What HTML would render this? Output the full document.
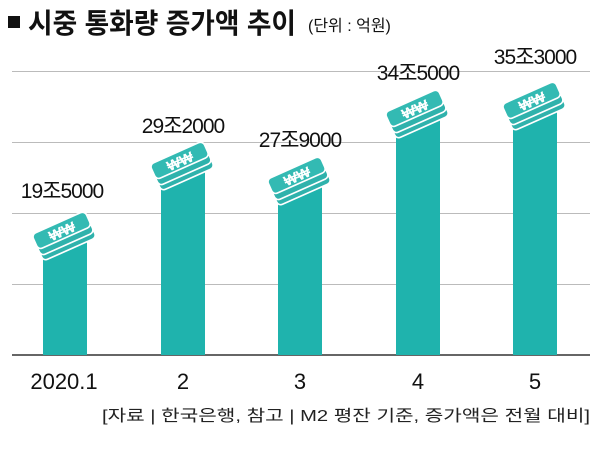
<!DOCTYPE html>
<html><head><meta charset="utf-8"><style>
body{margin:0;background:#fff;width:600px;height:446px;overflow:hidden}
svg text{font-family:"Liberation Sans","Noto Sans CJK KR",sans-serif}
</style></head><body>
<svg width="600" height="446" viewBox="0 0 600 446">
<defs>
<g id="bill">
 <g transform="scale(1.12) rotate(-24)">
  <rect x="-26" y="-4" width="52" height="15" rx="4" fill="#2fb2ac" stroke="#fff" stroke-width="1.5"/>
  <rect x="-26" y="-9" width="52" height="15" rx="4" fill="#2fb2ac" stroke="#fff" stroke-width="1.5"/>
  <rect x="-26" y="-15" width="52" height="15" rx="4" fill="#33bab3" stroke="#fff" stroke-width="1.5"/>
  <text x="0" y="-2" font-size="13" font-weight="bold" fill="#fff" text-anchor="middle">₩₩</text>
 </g>
</g>
</defs>
<rect x="8" y="16" width="12" height="12" fill="#111"/>
<text x="28" y="33" font-size="28" font-weight="bold" fill="#111" textLength="268" lengthAdjust="spacingAndGlyphs">시중 통화량 증가액 추이</text>
<text x="308" y="31" font-size="16" fill="#111">(단위 : 억원)</text>
<g stroke="#bbb" stroke-width="1">
<line x1="12" y1="71.5" x2="590" y2="71.5"/>
<line x1="12" y1="142.5" x2="590" y2="142.5"/>
<line x1="12" y1="213.5" x2="590" y2="213.5"/>
<line x1="12" y1="284.5" x2="590" y2="284.5"/>
</g>
<line x1="12" y1="355" x2="590" y2="355" stroke="#333" stroke-width="1.5"/>
<g fill="#1fb3ad">
<rect x="43" y="240" width="44" height="115"/>
<rect x="161" y="170" width="44" height="185"/>
<rect x="278" y="185" width="44" height="170"/>
<rect x="396" y="118" width="44" height="237"/>
<rect x="513" y="110" width="44" height="245"/>
</g>
<use href="#bill" x="65" y="238"/>
<use href="#bill" x="183" y="168"/>
<use href="#bill" x="300" y="183"/>
<use href="#bill" x="418" y="116"/>
<use href="#bill" x="535" y="108"/>
<g font-size="21" fill="#111" text-anchor="middle" letter-spacing="-1">
<text x="62" y="198">19조5000</text>
<text x="183" y="133">29조2000</text>
<text x="300" y="147">27조9000</text>
<text x="418" y="80">34조5000</text>
<text x="535" y="64">35조3000</text>
</g>
<g font-size="22" fill="#111" text-anchor="middle">
<text x="64" y="389">2020.1</text>
<text x="183" y="389">2</text>
<text x="300" y="389">3</text>
<text x="418" y="389">4</text>
<text x="535" y="389">5</text>
</g>
<text x="590" y="421" font-size="16" fill="#222" text-anchor="end" textLength="488" lengthAdjust="spacingAndGlyphs">[자료 | 한국은행, 참고 | M2 평잔 기준, 증가액은 전월 대비]</text>
</svg>
</body></html>
